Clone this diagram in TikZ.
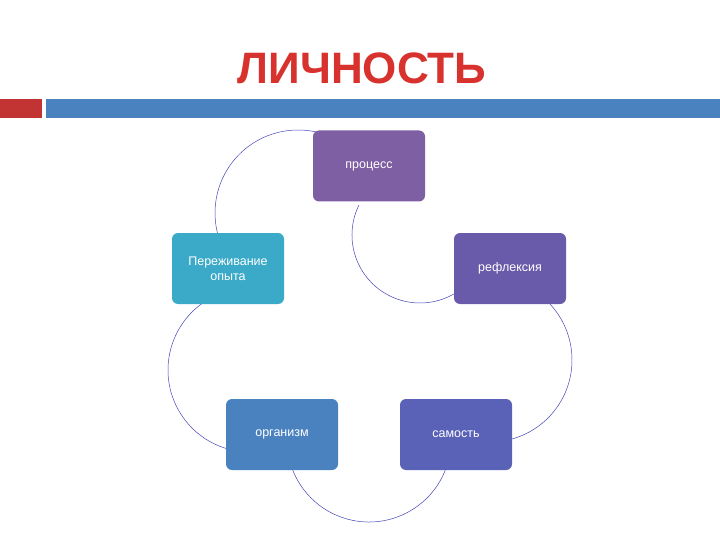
\documentclass[tikz,border=0pt]{standalone}
\usepackage{fontspec}
\setmainfont{Liberation Sans}
\begin{document}
\begin{tikzpicture}[x=1pt,y=1pt,
  box/.style={draw=none,rounded corners=6pt,minimum width=112pt,minimum height=71pt,text=white,font=\fontsize{12.5}{15}\selectfont,align=center,inner sep=0pt},
  arcline/.style={draw=blue!45!gray,line width=0.5pt}]
\useasboundingbox (0,0) rectangle (720,-540);
\fill[white] (0,0) rectangle (720,-540);
\fill[red!70!black!80] (0,-99) rectangle (42,-118);
\fill[fill={rgb,255:red,74;green,130;blue,192}] (46,-99) rectangle (720,-118);
\node (title) [text={rgb,255:red,215;green,50;blue,45},font=\bfseries\fontsize{44}{44}\selectfont] at (362,-68) {ЛИЧНОСТЬ};
% arcs
\draw[arcline] (298,-213) ++(55:83) arc(55:195:83);
\draw[arcline] (420,-235) ++(154:68) arc(154:300:68);
\draw[arcline] (490,-360) ++(60:82) arc(60:-75:82);
\draw[arcline] (369,-440) ++(-15:82) arc(-15:-165:82);
\draw[arcline] (250,-370) ++(-100:82) arc(-100:-235:82);
% boxes
\node[box,fill={rgb,255:red,126;green,95;blue,163}] (p) at (369,-166) {процесс};
\node[box,fill={rgb,255:red,58;green,170;blue,200}] (o) at (228,-268.5) {Переживание\\опыта};
\node[box,fill={rgb,255:red,106;green,91;blue,170}] (r) at (510,-268.5) {рефлексия};
\node[box,fill={rgb,255:red,74;green,130;blue,192}] (g) at (282,-434.5) {организм};
\node[box,fill={rgb,255:red,90;green,98;blue,184}] (s) at (456,-434.5) {самость};
\end{tikzpicture}
\end{document}
